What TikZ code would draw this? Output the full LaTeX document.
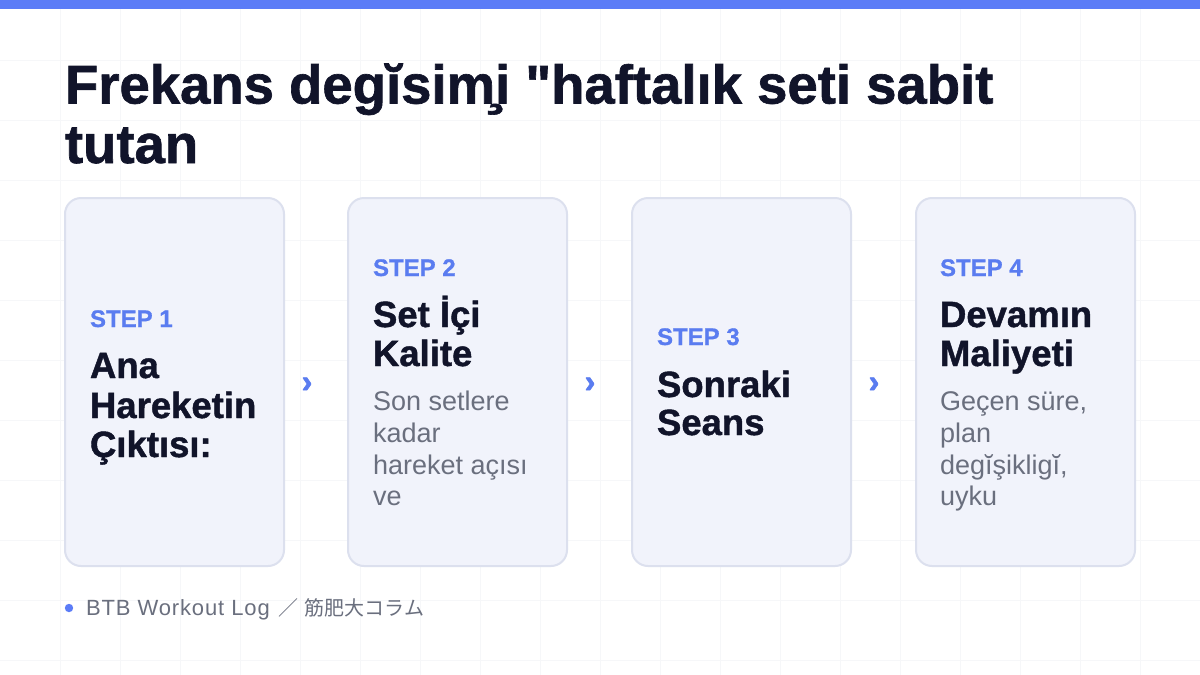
\documentclass[tikz,border=0pt]{standalone}
\usepackage{fontspec}
\setmainfont{Liberation Sans}[Ligatures=TeXOff]
\newfontfamily\cjk{Noto Sans CJK JP}
\definecolor{barblue}{HTML}{5B7CF7}
\definecolor{stepblue}{HTML}{5A7CF0}
\definecolor{ink}{HTML}{11142A}
\definecolor{bodygray}{HTML}{6A6F7E}
\definecolor{cardfill}{HTML}{F1F3FB}
\definecolor{cardline}{HTML}{DCE0EE}
\definecolor{gridc}{HTML}{F6F7F9}
\begin{document}
\begin{tikzpicture}[x=1pt,y=-1pt,
  txt/.style={anchor=base west,inner sep=0pt,outer sep=0pt},
  headline/.style={txt,text=ink,font=\fontsize{54.5}{60}\selectfont\bfseries\addfontfeature{FakeBold=1.2}},
  steplabel/.style={txt,text=stepblue,font=\fontsize{24}{28}\selectfont\bfseries\addfontfeature{FakeBold=0.8}},
  cardtitle/.style={txt,text=ink,font=\fontsize{36.5}{40}\selectfont\bfseries\addfontfeature{FakeBold=1.2}},
  cardbody/.style={txt,text=bodygray,font=\fontsize{27}{32}\selectfont},
  cardbox/.style={draw=cardline,line width=2pt,fill=cardfill,rounded corners=16pt,minimum width=219pt,minimum height=368pt,inner sep=0pt},
  chev/.style={inner sep=0pt,text=stepblue,font=\fontsize{32}{32}\selectfont\bfseries\addfontfeature{FakeBold=2}},
  footer/.style={txt,text=bodygray,font=\fontsize{22}{24}\selectfont\addfontfeature{LetterSpace=4}}]
\useasboundingbox (0,0) rectangle (1200,675);
\fill[white] (0,0) rectangle (1200,675);
\foreach \gx in {60,120,...,1140} \draw[gridc,line width=0.8pt] (\gx,0) -- (\gx,675);
\foreach \gy in {60,120,...,660} \draw[gridc,line width=0.8pt] (0,\gy) -- (1200,\gy);
\fill[barblue] (0,0) rectangle (1200,9);

% title
\node[headline] (t1) at (65,103.5) {Frekans degĭsim̧i "haftalık seti sabit};
\node[headline] (t2) at (65,163) {tutan};

% cards
\node[cardbox] (c1) at (174.5,382) {};
\node[cardbox] (c2) at (457.5,382) {};
\node[cardbox] (c3) at (741.5,382) {};
\node[cardbox] (c4) at (1025.5,382) {};

% chevrons
\node[chev] (ch1) at (307,385) {›};
\node[chev] (ch2) at (590,385) {›};
\node[chev] (ch3) at (874,385) {›};

% card 1
\node[steplabel] (s1) at (90,327) {STEP 1};
\node[cardtitle] (a1) at (90,378) {Ana};
\node[cardtitle] (a2) at (90,418) {Hareketin};
\node[cardtitle] (a3) at (90,457) {Çıktısı:};

% card 2
\node[steplabel] (s2) at (373,276) {STEP 2};
\node[cardtitle] (b1) at (373,327) {Set İçi};
\node[cardtitle] (b2) at (373,366) {Kalite};
\node[cardbody] (b3) at (373,410) {Son setlere};
\node[cardbody] (b4) at (373,442) {kadar};
\node[cardbody] (b5) at (373,474) {hareket açısı};
\node[cardbody] (b6) at (373,505) {ve};

% card 3
\node[steplabel] (s3) at (657,345) {STEP 3};
\node[cardtitle] (d1) at (657,397) {Sonraki};
\node[cardtitle] (d2) at (657,435) {Seans};

% card 4
\node[steplabel] (s4) at (940,276) {STEP 4};
\node[cardtitle] (e1) at (940,327) {Devamın};
\node[cardtitle] (e2) at (940,366) {Maliyeti};
\node[cardbody] (e3) at (940,410) {Geçen süre,};
\node[cardbody] (e4) at (940,442) {plan};
\node[cardbody] (e5) at (940,474) {degĭşikligĭ,};
\node[cardbody] (e6) at (940,505) {uyku};

% footer
\fill[barblue] (69,608) circle (4.2pt);
\node[footer] (f1) at (86,615) {BTB Workout Log\hspace{9pt}{\cjk\fontsize{20}{24}\selectfont ／\hspace{6pt}筋肥大コラム}};
\end{tikzpicture}
\end{document}
